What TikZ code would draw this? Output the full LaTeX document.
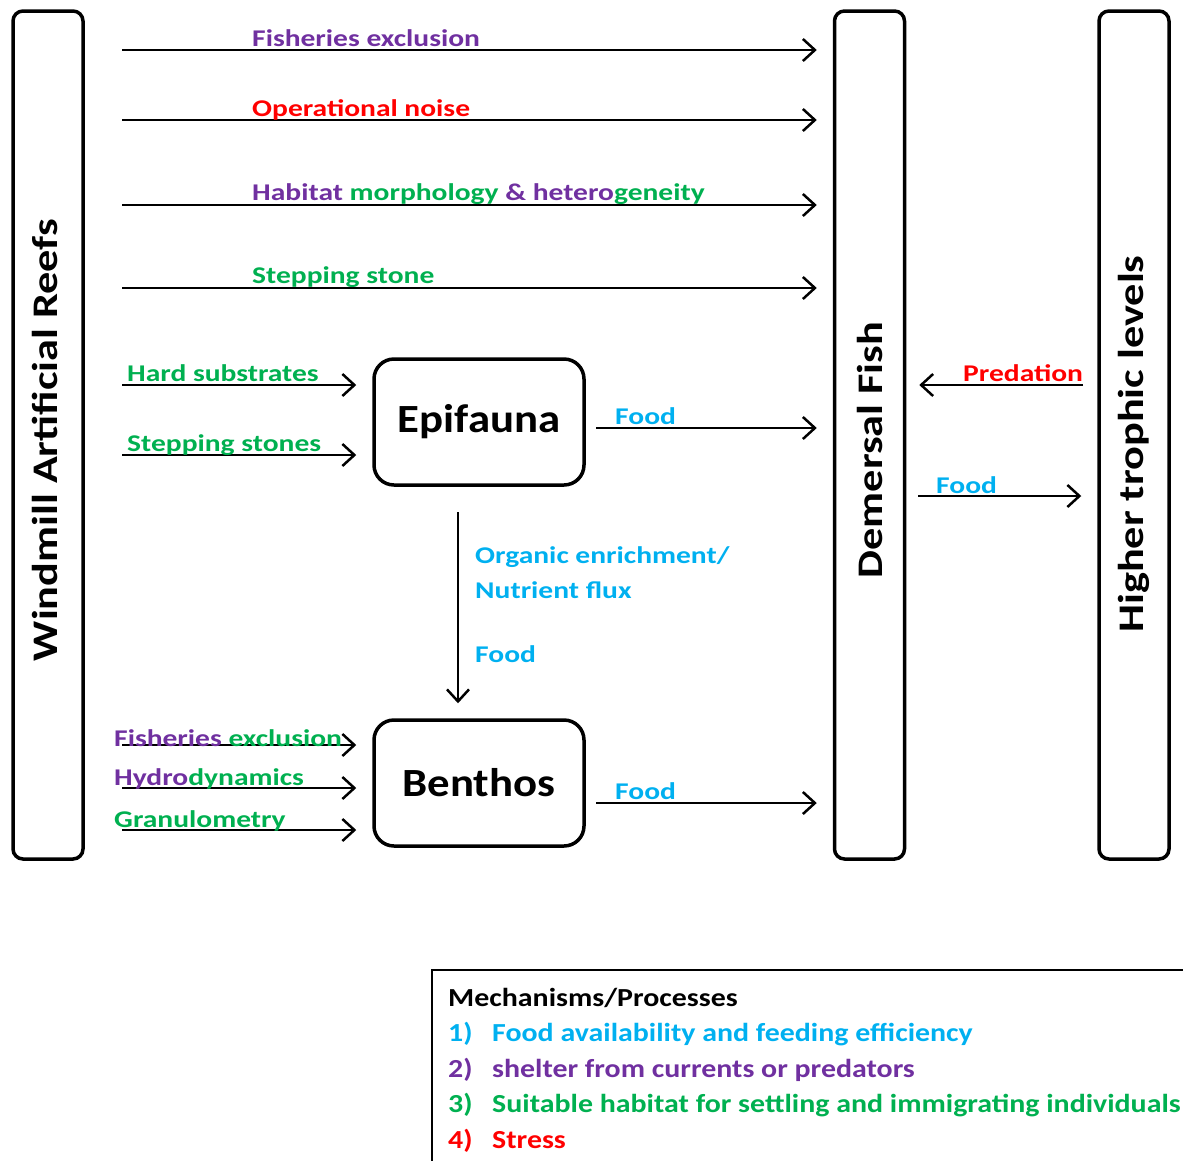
\documentclass[tikz,border=0pt]{standalone}
\usepackage{fontspec}
\setmainfont{Carlito}
\newfontfamily\widefont{Carlito}[FakeStretch=1.23]
\newfontfamily\keyfont{Carlito}[FakeStretch=1.15]
\newfontfamily\boxfont{Carlito}[FakeStretch=1.12]
\usetikzlibrary{arrows.meta,
                positioning}
\definecolor{fpurple}{RGB}{112,48,160}
\definecolor{fred}{RGB}{255,0,0}
\definecolor{fgreen}{RGB}{0,176,80}
\definecolor{fblue}{RGB}{0,176,240}

\begin{document}
\begin{tikzpicture}[
            x = 1pt, y = -1pt,
            bar/.style = {draw, line width=3.5pt, rounded corners=10pt,
                    minimum width=70pt, minimum height=848pt, inner sep=0pt},
            box/.style = {draw, line width=3.5pt, rounded corners=20pt,
                    minimum width=210pt, minimum height=126pt,
                    font=\boxfont\fontsize{40}{44}\selectfont\bfseries},
            title/.style = {rotate=90, inner sep=0pt,
                    font=\widefont\fontsize{36}{40}\selectfont\bfseries},
            flow/.style = {line width=2.5pt,
                    -{Straight Barb[length=12pt, width=22pt, line width=2.5pt]}},
            lbl/.style = {inner sep=0pt, anchor=base west,
                    font=\widefont\fontsize{24}{28}\selectfont\bfseries},
            key/.style = {inner sep=0pt, anchor=base west,
                    font=\keyfont\fontsize{26}{30}\selectfont\bfseries}]
        \useasboundingbox (0,0) rectangle (1183,1160);

        % Columns
        \node [bar] (reef) at (48,435) {};
        \node [bar] (fish) at (869.5,435) {};
        \node [bar] (high) at (1134,435) {};
        \node [title] (reeft) at ([xshift=-3pt,yshift=-5pt]reef.center) {Windmill Artificial Reefs};
        \node [title] (fisht) at ([yshift=-15pt]fish.center) {Demersal Fish};
        \node [title] (hight) at ([yshift=-9pt]high.center) {Higher trophic levels};

        % Boxes
        \node [box] (epi) at (479,422) {Epifauna};
        \node [box] (ben) at (479,783) {Benthos};

        % Start points
        \foreach \y/\nm in {50/fe, 120/on, 205/hm, 288/ss,
                            385/hs, 455/st, 745/bfe, 788/bhy, 830/bgr}
            \coordinate (\nm) at (122,\y);
        \coordinate (ef) at (596,428);
        \coordinate (bf) at (596,803);
        \coordinate (pr) at (1083,385);
        \coordinate (fr) at (918,496);
        \coordinate (dn) at (458,512);

        %%
        \foreach \nm in {fe, on, hm, ss, ef, bf}
            \draw [flow, shorten >=16pt] (\nm) -- (\nm -| fish.west);
        \foreach \nm in {hs, st}
            \draw [flow, shorten >=16pt] (\nm) -- (\nm -| epi.west);
        \foreach \nm in {bfe, bhy, bgr}
            \draw [flow, shorten >=16pt] (\nm) -- (\nm -| ben.west);
        \draw [flow, shorten >=13pt] (pr) -- (pr -| fish.east);
        \draw [flow, shorten >=16pt] (fr) -- (fr -| high.west);
        \draw [flow, shorten >=15pt] (dn) -- (dn |- ben.north);

        % Labels
        \node [lbl, text=fpurple] (fel) at (252,46) {Fisheries exclusion};
        \node [lbl, text=fred] (onl) at (252,116) {Operational noise};
        \node [lbl] (hml) at (252,200) {\textcolor{fpurple}{Habitat} \textcolor{fgreen}{morphology}
            \textcolor{fpurple}{\& hetero}\textcolor{fgreen}{geneity}};
        \node [lbl, text=fgreen] (ssl) at (252,283) {Stepping stone};
        \node [lbl, text=fgreen] (hsl) at (127,381) {Hard substrates};
        \node [lbl, text=fgreen] (stl) at (127,451) {Stepping stones};
        \node [lbl, text=fblue] (efl) at (615,424) {Food};
        \node [lbl, text=fblue] (oel) at (475,563) {Organic enrichment/};
        \node [lbl, text=fblue] (nfl) at (475,598) {Nutrient flux};
        \node [lbl, text=fblue] (dnl) at (475,662) {Food};
        \node [lbl] (bfel) at (114,746) {\textcolor{fpurple}{Fisheries} \textcolor{fgreen}{exclusion}};
        \node [lbl] (bhyl) at (114,785) {\textcolor{fpurple}{Hydro}\textcolor{fgreen}{dynamics}};
        \node [lbl, text=fgreen] (bgrl) at (114,827) {Granulometry};
        \node [lbl, text=fblue] (bfl) at (615,799) {Food};
        \node [lbl, text=fred] (prl) at (963,381) {Predation};
        \node [lbl, text=fblue] (frl) at (936,493) {Food};

        % Legend
        \node [draw, line width=1.5pt, anchor=north west, minimum width=900pt,
            minimum height=400pt] (legend) at (431,969) {};
        \node [key] (keyt) at (448,1006) {Mechanisms/Processes};
        \foreach \c/\t [count=\i] in {fblue/Food availability and feeding efficiency,
                fpurple/shelter from currents or predators,
                fgreen/Suitable habitat for settling and immigrating individuals,
                fred/Stress} {
            \node [key, text=\c] (keyn\i) at (448,1006+35.5*\i) {\i)};
            \node [key, text=\c] (key\i) at (492,1006+35.5*\i) {\t};
        }
\end{tikzpicture}
\end{document}
